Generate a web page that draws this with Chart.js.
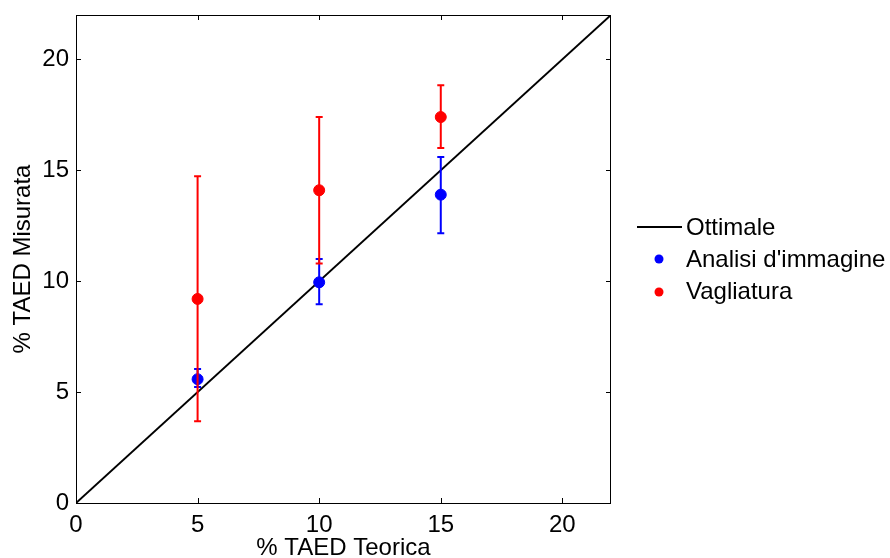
<!DOCTYPE html>
<html>
<head>
<meta charset="utf-8">
<script src="https://cdn.jsdelivr.net/npm/chart.js@4/dist/chart.umd.min.js"></script>
<style>
html,body{margin:0;padding:0;background:#fff;}
#wrap{width:890px;height:558px;}
</style>
</head>
<body>
<div id="wrap"><canvas id="c" width="890" height="558"></canvas></div>
<script>
const xTheory = [5, 10, 15];
const imgMean = [5.58, 9.95, 13.9];
const imgLow = [5.23, 8.96, 12.16];
const imgHigh = [6.04, 11.0, 15.6];
const sieveMean = [9.2, 14.1, 17.4];
const sieveLow = [3.69, 10.8, 16.0];
const sieveHigh = [14.73, 17.4, 18.83];
const optimalX = [0, 22];
const optimalY = [0, 22];
const tickValues = [0, 5, 10, 15, 20];
const seriesNames = ['Ottimale', "Analisi d'immagine", 'Vagliatura'];
const axisTitles = ['% TAED Teorica', '% TAED Misurata'];

const FONT = '"Liberation Sans", Arial, sans-serif';

const errorBars = {
  id: 'errorBars',
  afterDatasetsDraw(chart) {
    const ctx = chart.ctx, xs = chart.scales.x, ys = chart.scales.y;
    const sets = [[imgLow, imgHigh, '#0000ff'], [sieveLow, sieveHigh, '#ff0000']];
    ctx.save();
    ctx.lineWidth = 2;
    for (const [lo, hi, col] of sets) {
      ctx.strokeStyle = col;
      for (let i = 0; i < xTheory.length; i++) {
        const px = xs.getPixelForValue(xTheory[i]);
        const y1 = ys.getPixelForValue(lo[i]), y2 = ys.getPixelForValue(hi[i]);
        ctx.beginPath();
        ctx.moveTo(px, y1); ctx.lineTo(px, y2);
        ctx.moveTo(px - 3.5, y1); ctx.lineTo(px + 3.5, y1);
        ctx.moveTo(px - 3.5, y2); ctx.lineTo(px + 3.5, y2);
        ctx.stroke();
      }
    }
    ctx.restore();
  }
};

const boxTicks = {
  id: 'boxTicks',
  afterDraw(chart) {
    const ctx = chart.ctx, a = chart.chartArea, xs = chart.scales.x, ys = chart.scales.y;
    ctx.save();
    ctx.strokeStyle = '#000';
    ctx.lineWidth = 1;
    ctx.strokeRect(a.left + 0.5, a.top + 0.5, a.right - a.left - 1, a.bottom - a.top);
    ctx.beginPath();
    for (const v of tickValues) {
      const px = Math.round(xs.getPixelForValue(v)) + 0.5;
      ctx.moveTo(px, a.bottom); ctx.lineTo(px, a.bottom - 5);
      ctx.moveTo(px, a.top); ctx.lineTo(px, a.top + 5);
      const py = Math.round(ys.getPixelForValue(v)) + 0.5;
      ctx.moveTo(a.left, py); ctx.lineTo(a.left + 5, py);
      ctx.moveTo(a.right, py); ctx.lineTo(a.right - 5, py);
    }
    ctx.stroke();
    // legend
    ctx.font = '24px ' + FONT;
    ctx.fillStyle = '#000';
    ctx.textBaseline = 'middle';
    ctx.textAlign = 'left';
    ctx.lineWidth = 2;
    ctx.beginPath(); ctx.moveTo(637, 227); ctx.lineTo(682, 227); ctx.stroke();
    ctx.fillText(seriesNames[0], 686, 228);
    ctx.fillStyle = '#0000ff';
    ctx.beginPath(); ctx.arc(659, 259, 4.5, 0, Math.PI * 2); ctx.fill();
    ctx.fillStyle = '#000';
    ctx.fillText(seriesNames[1], 686, 260);
    ctx.fillStyle = '#ff0000';
    ctx.beginPath(); ctx.arc(659, 292, 4.5, 0, Math.PI * 2); ctx.fill();
    ctx.fillStyle = '#000';
    ctx.fillText(seriesNames[2], 686, 292);
    ctx.restore();
  }
};

new Chart(document.getElementById('c'), {
  type: 'scatter',
  data: {
    datasets: [
      { label: seriesNames[0], type: 'line', data: optimalX.map((x, i) => ({x, y: optimalY[i]})),
        borderColor: '#000', borderWidth: 2, pointRadius: 0, fill: false, order: 3 },
      { label: seriesNames[1], data: xTheory.map((x, i) => ({x, y: imgMean[i]})),
        backgroundColor: '#0000ff', borderColor: '#0000ff', pointRadius: 5.5, order: 1 },
      { label: seriesNames[2], data: xTheory.map((x, i) => ({x, y: sieveMean[i]})),
        backgroundColor: '#ff0000', borderColor: '#ff0000', pointRadius: 5.5, order: 2 }
    ]
  },
  options: {
    responsive: false,
    animation: false,
    devicePixelRatio: 1,
    layout: { padding: { top: 15, right: 279, left: 0, bottom: 0 } },
    plugins: { legend: { display: false }, tooltip: { enabled: false } },
    scales: {
      x: {
        type: 'linear', min: 0, max: 22,
        afterBuildTicks(s) { s.ticks = tickValues.map(v => ({value: v})); },
        afterFit(s) { s.height = 55; s.paddingLeft = 0; s.paddingRight = 0; },
        grid: { display: false, drawTicks: false },
        border: { display: false },
        ticks: { color: '#000', font: { family: FONT, size: 24 }, padding: 8, maxRotation: 0 },
        title: { display: true, text: axisTitles[0], color: '#000', font: { family: FONT, size: 24 }, padding: { top: 0, bottom: -5 } }
      },
      y: {
        type: 'linear', min: 0, max: 22,
        afterBuildTicks(s) { s.ticks = tickValues.map(v => ({value: v})); },
        afterFit(s) { s.width = 76; s.paddingTop = 0; s.paddingBottom = 0; },
        grid: { display: false, drawTicks: false },
        border: { display: false },
        ticks: { color: '#000', font: { family: FONT, size: 24 }, padding: 7 },
        title: { display: true, text: axisTitles[1], color: '#000', font: { family: FONT, size: 24 }, padding: { top: 9, bottom: 0 } }
      }
    }
  },
  plugins: [errorBars, boxTicks]
});
</script>
</body>
</html>
